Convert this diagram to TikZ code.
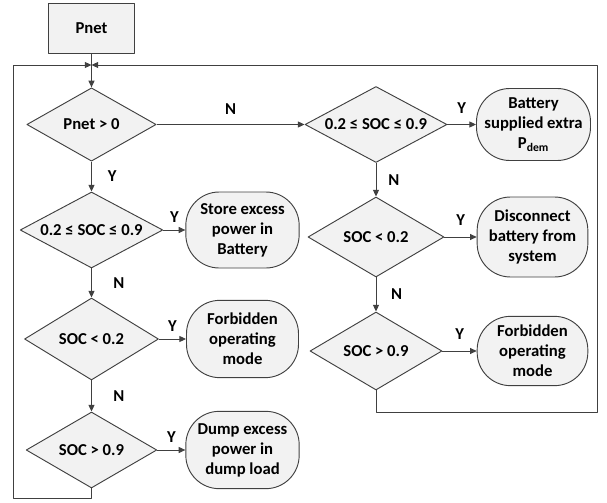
\documentclass[tikz,border=0pt]{standalone}
\usepackage{fontspec}
\setmainfont{Carlito}
\usetikzlibrary{shapes.geometric,arrows.meta}

\definecolor{linegray}{HTML}{404040}
\definecolor{boxgray}{HTML}{F2F2F2}

\begin{document}
\begin{tikzpicture}[x=0.75pt, y=-0.75pt, line join=round, line width=0.7pt,
every node/.style={font=\bfseries\fontsize{12.5}{15}\selectfont},
decision/.style={diamond, draw=linegray, fill=boxgray, aspect=1.8, inner sep=0pt, align=center},
outcome/.style={rectangle, rounded corners=25pt, draw=linegray, fill=boxgray, inner sep=0pt, align=center},
inbox/.style={rectangle, draw=linegray, fill=boxgray},
flow/.style={draw=linegray, -{Triangle[length=5pt, width=4.5pt]}},
wire/.style={draw=linegray},
lbl/.style={inner sep=1pt}]

\useasboundingbox (0,0) rectangle (607,503);

% Input
\node[inbox, minimum width=65pt, minimum height=38pt] (pnet) at (91.5,28.5) {Pnet};
\coordinate (join) at (91.5,65);

% Left column (charging)
\node[decision, minimum width=97pt, minimum height=55pt] (d1) at (91.5,124.5) {Pnet > 0};
\node[decision, minimum width=107pt, minimum height=57pt] (l2) at (91.5,230) {0.2 ≤ SOC ≤ 0.9};
\node[decision, minimum width=100.5pt, minimum height=61.5pt] (l3) at (91.5,339) {SOC < 0.2};
\node[decision, minimum width=98pt, minimum height=57pt] (l4) at (91.5,450) {SOC > 0.9};

\node[outcome, minimum width=85pt, minimum height=57pt] (lt2) at (242.5,230) {Store excess\\power in\\Battery};
\node[outcome, minimum width=84pt, minimum height=58pt] (lt3) at (242.5,339) {Forbidden\\operating\\mode};
\node[outcome, minimum width=85pt, minimum height=58pt] (lt4) at (242.5,450) {Dump excess\\power in\\dump load};

% Right column (discharging)
\node[decision, minimum width=106.5pt, minimum height=57pt] (r1) at (376,124.5) {0.2 ≤ SOC ≤ 0.9};
\node[decision, minimum width=102pt, minimum height=60pt] (r2) at (376,237) {SOC < 0.2};
\node[decision, minimum width=99pt, minimum height=58.5pt] (r3) at (376,351) {SOC > 0.9};

\node[outcome, minimum width=85.5pt, minimum height=54pt] (t1) at (533.5,124.5) {Battery\\supplied extra\\P\textsubscript{dem}};
\node[outcome, minimum width=83pt, minimum height=60pt] (t2) at (532.5,237) {Disconnect\\battery from\\system};
\node[outcome, minimum width=83pt, minimum height=52pt] (t3) at (532.5,351) {Forbidden\\operating\\mode};

% Connectors
\draw[wire] (pnet) -- (join);
\draw[flow] (join) -- (d1);
\draw[flow] (d1) -- node[lbl, right=11pt] {Y} (l2);
\draw[flow] (d1) -- node[lbl, above=6pt] {N} (r1);
\draw[flow] (l2) -- node[lbl, right=15pt] {N} (l3);
\draw[flow] (l3) -- node[lbl, right=15pt] {N} (l4);
\draw[flow] (r1) -- node[lbl, right=8pt] {N} (r2);
\draw[flow] (r2) -- node[lbl, right=10pt] {N} (r3);
\foreach \d/\t in {l2/lt2, l3/lt3, l4/lt4} {
	\draw[flow] (\d) -- node[lbl, above=4pt] {Y} (\t);
}
\foreach \d/\t in {r1/t1, r2/t2, r3/t3} {
	\draw[flow] (\d) -- node[lbl, above=7pt] {Y} (\t);
}

% Return loops
\draw[flow] (l4.south) |- (13,498) |- (join);
\draw[flow] (r3.south) |- (597,412) |- (join);

\end{tikzpicture}
\end{document}
